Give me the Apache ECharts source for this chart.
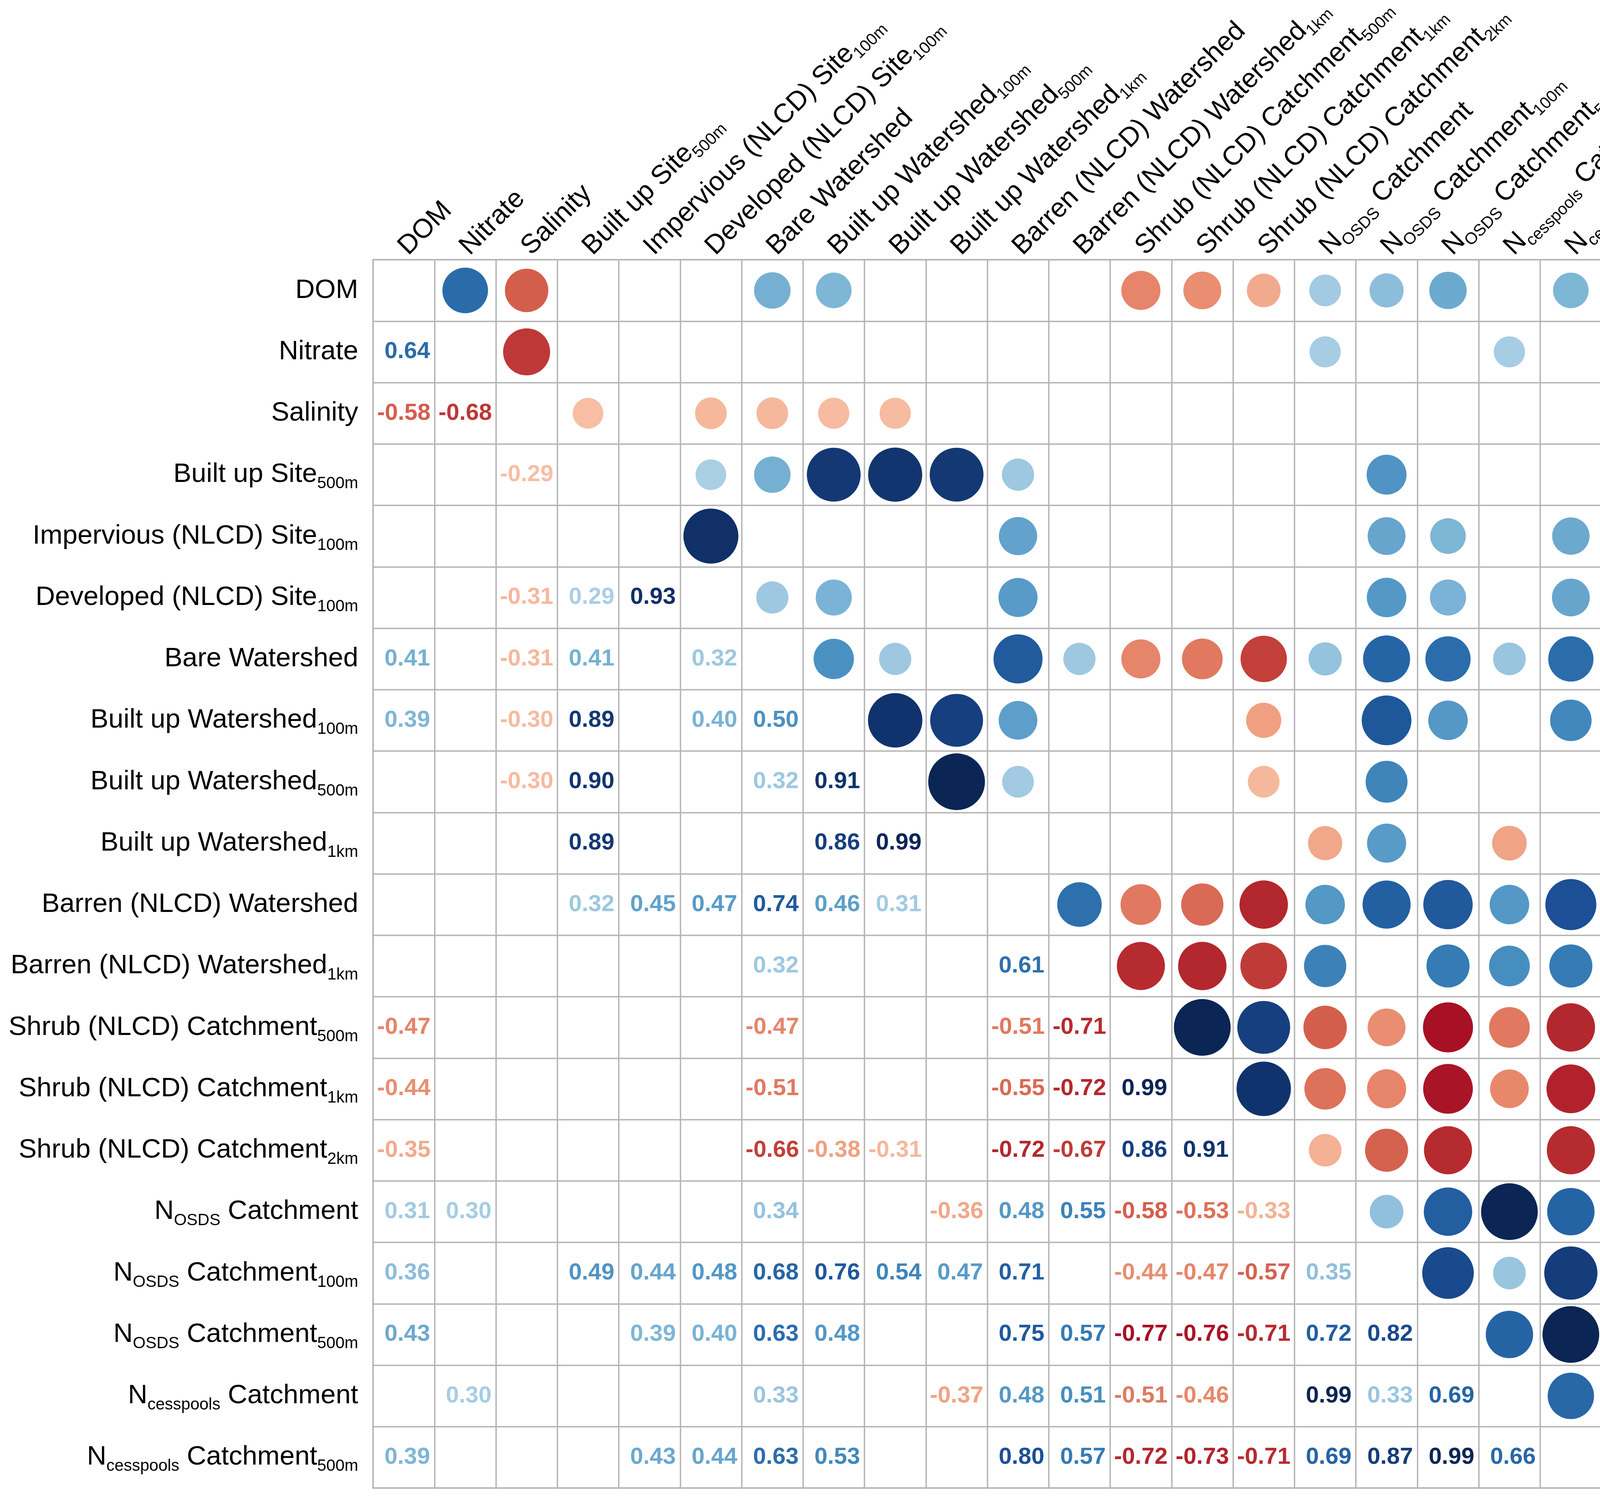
<!DOCTYPE html>
<html>
<head>
<meta charset="utf-8">
<script src="https://cdn.jsdelivr.net/npm/echarts@6/dist/echarts.min.js"></script>
<style>
  html, body { margin: 0; padding: 0; background: #fff; }
  #corrplot { width: 4560px; height: 3833px; }
</style>
</head>
<body>
<div id="corrplot"></div>
<script>
'use strict'

// variable names, _{...} marks a subscript
var categories = [
    'DOM',
    'Nitrate',
    'Salinity',
    'Built up Site_{500m}',
    'Impervious (NLCD) Site_{100m}',
    'Developed (NLCD) Site_{100m}',
    'Bare Watershed',
    'Built up Watershed_{100m}',
    'Built up Watershed_{500m}',
    'Built up Watershed_{1km}',
    'Barren (NLCD) Watershed',
    'Barren (NLCD) Watershed_{1km}',
    'Shrub (NLCD) Catchment_{500m}',
    'Shrub (NLCD) Catchment_{1km}',
    'Shrub (NLCD) Catchment_{2km}',
    'N_{OSDS} Catchment',
    'N_{OSDS} Catchment_{100m}',
    'N_{OSDS} Catchment_{500m}',
    'N_{cesspools} Catchment',
    'N_{cesspools} Catchment_{500m}'
];

// lower triangle of the correlation matrix, one row per variable (null = not shown)
var corrLower = [
    [],
    [0.64],
    [-0.58, -0.68],
    [null, null, -0.29],
    [null, null, null, null],
    [null, null, -0.31, 0.29, 0.93],
    [0.41, null, -0.31, 0.41, null, 0.32],
    [0.39, null, -0.30, 0.89, null, 0.40, 0.50],
    [null, null, -0.30, 0.90, null, null, 0.32, 0.91],
    [null, null, null, 0.89, null, null, null, 0.86, 0.99],
    [null, null, null, 0.32, 0.45, 0.47, 0.74, 0.46, 0.31, null],
    [null, null, null, null, null, null, 0.32, null, null, null, 0.61],
    [-0.47, null, null, null, null, null, -0.47, null, null, null, -0.51, -0.71],
    [-0.44, null, null, null, null, null, -0.51, null, null, null, -0.55, -0.72, 0.99],
    [-0.35, null, null, null, null, null, -0.66, -0.38, -0.31, null, -0.72, -0.67, 0.86, 0.91],
    [0.31, 0.30, null, null, null, null, 0.34, null, null, -0.36, 0.48, 0.55, -0.58, -0.53, -0.33],
    [0.36, null, null, 0.49, 0.44, 0.48, 0.68, 0.76, 0.54, 0.47, 0.71, null, -0.44, -0.47, -0.57, 0.35],
    [0.43, null, null, null, 0.39, 0.40, 0.63, 0.48, null, null, 0.75, 0.57, -0.77, -0.76, -0.71, 0.72, 0.82],
    [null, 0.30, null, null, null, null, 0.33, null, null, -0.37, 0.48, 0.51, -0.51, -0.46, null, 0.99, 0.33, 0.69],
    [0.39, null, null, null, 0.43, 0.44, 0.63, 0.53, null, null, 0.80, 0.57, -0.72, -0.73, -0.71, 0.69, 0.87, 0.99, 0.66]
];

// colour ramp from -1 to 1
var rampColors = [
    '#5e0016', '#80001a', '#a00220', '#b83032', '#d05647', '#e27d62', '#ee9979',
    '#f6bba0', '#fbd9c6', '#fdece4', '#ffffff', '#e6f0f7', '#c7dfed', '#a6cde3',
    '#7ab3d5', '#4a91c2', '#2e72ae', '#2462a3', '#1c4f95', '#123570', '#0a2352'
];

var FONT = "'Liberation Sans', Arial, sans-serif";

// split lower triangle into text cells and mirrored circle cells
var textCells = [];
var circleCells = [];
corrLower.forEach(function (row, i) {
    row.forEach(function (r, j) {
        if (r === null) return;
        textCells.push([j, i, r]);
        circleCells.push([i, j, r]);
    });
});

function richLabel(name) {
    var parts = name.split(/_\{([^}]*)\}/);
    var out = '';
    parts.forEach(function (p, k) {
        if (!p) return;
        out += (k % 2 === 0 ? '{m|' : '{s|') + p + '}';
    });
    return out;
}

var labelRich = {
    m: { fontSize: 69, fontFamily: FONT, color: '#000', lineHeight: 69, verticalAlign: 'top' },
    s: { fontSize: 42, fontFamily: FONT, color: '#000', lineHeight: 42, verticalAlign: 'top', padding: [37, 0, 0, 0] }
};

var gridLine = { color: '#b4b4b4', width: 3.5 };

var chart = echarts.init(document.getElementById('corrplot'));

var option = {
    backgroundColor: '#fff',
    animation: false,
    grid: [
        {
            left: 955, top: 665, width: 3145, height: 3145,
            containLabel: false, outerBoundsMode: 'none',
            show: true, borderColor: '#b4b4b4', borderWidth: 3.5
        },
        {
            left: 4160, top: 665, width: 117, height: 3145,
            containLabel: false, outerBoundsMode: 'none',
            show: true, borderColor: '#000', borderWidth: 5, z: 10
        }
    ],
    visualMap: {
        type: 'continuous',
        min: -1,
        max: 1,
        dimension: 2,
        seriesIndex: [0, 1],
        calculable: false,
        hoverLink: false,
        realtime: false,
        itemWidth: 117,
        itemHeight: 3145,
        left: 4160,
        top: 665,
        padding: 0,
        z: 1,
        text: null,
        showLabel: false,
        inRange: { color: rampColors }
    },
    xAxis: [
        {
            type: 'category',
            gridIndex: 0,
            position: 'top',
            data: categories,
            boundaryGap: true,
            axisLine: { show: false },
            axisTick: { show: false },
            splitLine: { show: true, interval: 0, lineStyle: gridLine },
            axisLabel: {
                interval: 0,
                rotate: -45,
                margin: -24,
                padding: [0, 0, 0, 32],
                align: 'left',
                verticalAlign: 'bottom',
                formatter: richLabel,
                rich: labelRich
            }
        },
        {
            type: 'category',
            gridIndex: 1,
            data: [''],
            show: false
        }
    ],
    yAxis: [
        {
            type: 'category',
            gridIndex: 0,
            inverse: true,
            data: categories,
            boundaryGap: true,
            axisLine: { show: false },
            axisTick: { show: false },
            splitLine: { show: true, interval: 0, lineStyle: gridLine },
            axisLabel: {
                interval: 0,
                margin: 38,
                formatter: richLabel,
                rich: labelRich
            }
        },
        {
            type: 'value',
            gridIndex: 1,
            position: 'right',
            min: -1,
            max: 1,
            interval: 0.2,
            axisLine: { show: false },
            axisTick: { show: true, inside: false, length: 24, lineStyle: { color: '#000', width: 3.5 } },
            splitLine: { show: false },
            axisLabel: {
                margin: 146,
                align: 'center',
                fontSize: 58,
                fontFamily: FONT,
                color: '#000',
                formatter: function (v) { return String(+v.toFixed(1)); }
            }
        }
    ],
    series: [
        {
            name: 'circles',
            type: 'scatter',
            xAxisIndex: 0,
            yAxisIndex: 0,
            data: circleCells,
            symbol: 'circle',
            symbolSize: function (d) { return 146 * Math.sqrt(Math.abs(d[2])); },
            itemStyle: { opacity: 1 },
            z: 5
        },
        {
            name: 'values',
            type: 'custom',
            xAxisIndex: 0,
            yAxisIndex: 0,
            data: textCells,
            renderItem: function (params, api) {
                var r = api.value(2);
                var p = api.coord([api.value(0), api.value(1)]);
                return {
                    type: 'text',
                    x: p[0] + (r >= 0 ? 9 : 0),
                    y: p[1],
                    style: {
                        text: r.toFixed(2),
                        fill: api.visual('color'),
                        font: 'bold 60px ' + FONT,
                        textAlign: 'center',
                        textVerticalAlign: 'middle'
                    }
                };
            },
            z: 5
        }
    ]
};

chart.setOption(option);
</script>
</body>
</html>
